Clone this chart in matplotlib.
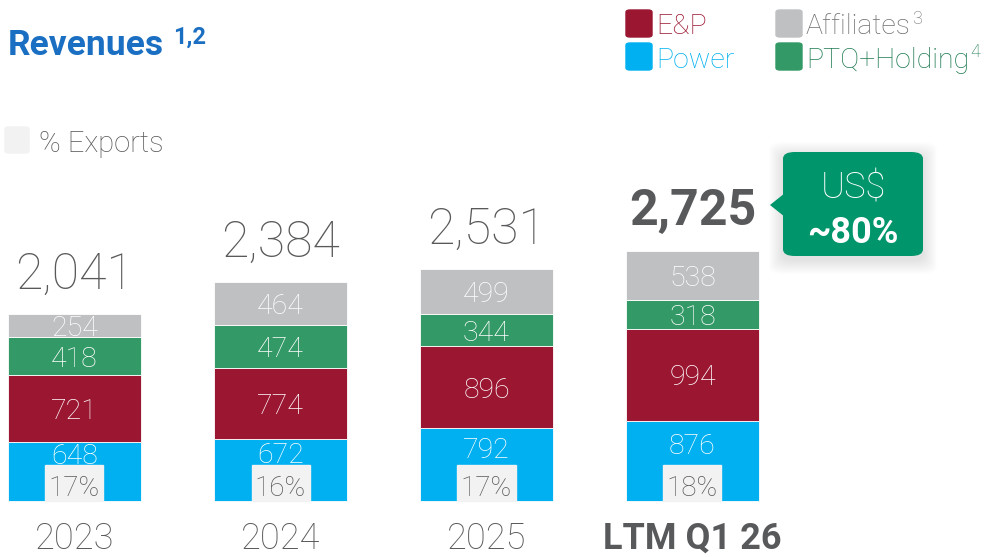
import matplotlib
matplotlib.use('Agg')
import matplotlib.pyplot as plt
from matplotlib.patches import FancyBboxPatch, Rectangle, Polygon

plt.rcParams['font.family'] = ['Roboto', 'DejaVu Sans']

years = ['2023', '2024', '2025', 'LTM Q1 26']
power = [648, 672, 792, 876]
ep = [721, 774, 896, 994]
ptq = [418, 474, 344, 318]
affiliates = [254, 464, 499, 538]
totals = [2041, 2384, 2531, 2725]
exports = [17, 16, 17, 18]

c_power = '#00b0f0'
c_ep = '#9b1631'
c_ptq = '#339966'
c_aff = '#bfc0c2'
c_exp = '#f2f2f2'
grey = '#58595b'
LW = 'light'

W, H = 984, 557
fig = plt.figure(figsize=(W / 100, H / 100), dpi=100)
ax = fig.add_axes([0, 0, 1, 1])

# map pixels to data: bar centres 206 px apart, 1 unit = 10.89 in value
px = 1 / 0.0918
ax.set_xlim(-74.5 / 206, (W - 74.5) / 206)
ax.set_ylim(-56 * px, (H - 56) * px)
ax.axis('off')


def fp(x, y):
    return x / W, 1 - y / H


x = range(len(years))
width = 133 / 206
bottom = [0] * 4
for vals, col in [(power, c_power), (ep, c_ep), (ptq, c_ptq), (affiliates, c_aff)]:
    ax.bar(x, vals, width, bottom=bottom, color=col, edgecolor='white', linewidth=0.6)
    for i, v in enumerate(vals):
        if col == c_power:
            box_top = 35 * px
            yc = (bottom[i] + v + box_top) / 2
        else:
            yc = bottom[i] + v / 2
        ax.text(i, yc, str(v), ha='center', va='center_baseline', color='white',
                fontsize=20.5, fontweight=LW)
    bottom = [b + v for b, v in zip(bottom, vals)]

# exports boxes
for i, e in enumerate(exports):
    ax.add_patch(Rectangle((i - 29 / 206, 0), 58 / 206, 36 * px, color=c_exp, zorder=3))
    ax.text(i, 15 * px, f'{e}%', ha='center', va='center_baseline', color=grey,
            fontsize=20, fontweight=LW, zorder=4)

# totals
for i, t in enumerate(totals):
    last = i == len(totals) - 1
    ax.text(i, bottom[i] + 44 * px, f'{t:,}', ha='center', va='center_baseline', color=grey,
            fontsize=36, fontweight='bold' if last else LW)

# year labels
for i, yname in enumerate(years):
    last = i == len(years) - 1
    ax.text(i, -34 * px, yname, ha='center', va='center_baseline', color=grey,
            fontsize=26, fontweight='bold' if last else LW)

# title
title = fig.text(*fp(8, 42), 'Revenues', color='#1b6fc2', fontsize=25.5, fontweight='bold',
                 va='center_baseline')
fig.canvas.draw()
tb = title.get_window_extent()
fig.text(tb.x1 / W + 9 / W, fp(0, 35)[1], '1,2', color='#1b6fc2', fontsize=17,
         fontweight='bold', va='center_baseline')

# % exports key
fig.patches.append(FancyBboxPatch(fp(5, 153), 24 / W, 26 / H, boxstyle='round,pad=0,rounding_size=0.004',
                                  transform=fig.transFigure, color=c_exp))
fig.text(*fp(39, 141), '% Exports', color=grey, fontsize=21, fontweight=LW, va='center_baseline')

# legend
legend = [(626, 24, c_ep, 'E&P', c_ep, ''), (626, 57, c_power, 'Power', c_power, ''),
          (776, 24, c_aff, 'Affiliates', '#6d6e71', '3'), (776, 57, c_ptq, 'PTQ+Holding', '#1e7a50', '4')]
for lx, ly, col, lab, tcol, sup in legend:
    fig.patches.append(FancyBboxPatch(fp(lx, ly + 13), 26 / W, 27 / H,
                                      boxstyle='round,pad=0,rounding_size=0.004',
                                      transform=fig.transFigure, color=col))
    t = fig.text(*fp(lx + 30, ly), lab, color=tcol, fontsize=20.5, fontweight=LW, va='center_baseline')
    if sup:
        fig.canvas.draw()
        bb = t.get_window_extent()
        fig.text(bb.x1 / W + 1 / W, fp(0, ly - 7)[1], sup, color=tcol, fontsize=13,
                 fontweight=LW, va='center_baseline')

# callout with soft shadow
for k in range(14, 0, -1):
    fig.patches.append(FancyBboxPatch(fp(783 - k, 256 + k + 4), (140 + 2 * k) / W, (104 + 2 * k) / H,
                                      boxstyle='round,pad=0,rounding_size=0.014',
                                      transform=fig.transFigure, color='black', alpha=0.008, lw=0))
fig.patches.append(FancyBboxPatch(fp(783, 256), 140 / W, 104 / H,
                                  boxstyle='round,pad=0,rounding_size=0.012',
                                  transform=fig.transFigure, color='#00956a', lw=0))
fig.patches.append(Polygon([fp(770, 205), fp(785, 193), fp(785, 217)], closed=True,
                           transform=fig.transFigure, color='#00956a', lw=0))
fig.text(*fp(853, 185), 'US$', color='white', fontsize=26, fontweight=LW, ha='center', va='center_baseline')
fig.text(*fp(853, 229), '~80%', color='white', fontsize=26, fontweight='bold', ha='center', va='center_baseline')

fig.savefig('out.png', dpi=100)
